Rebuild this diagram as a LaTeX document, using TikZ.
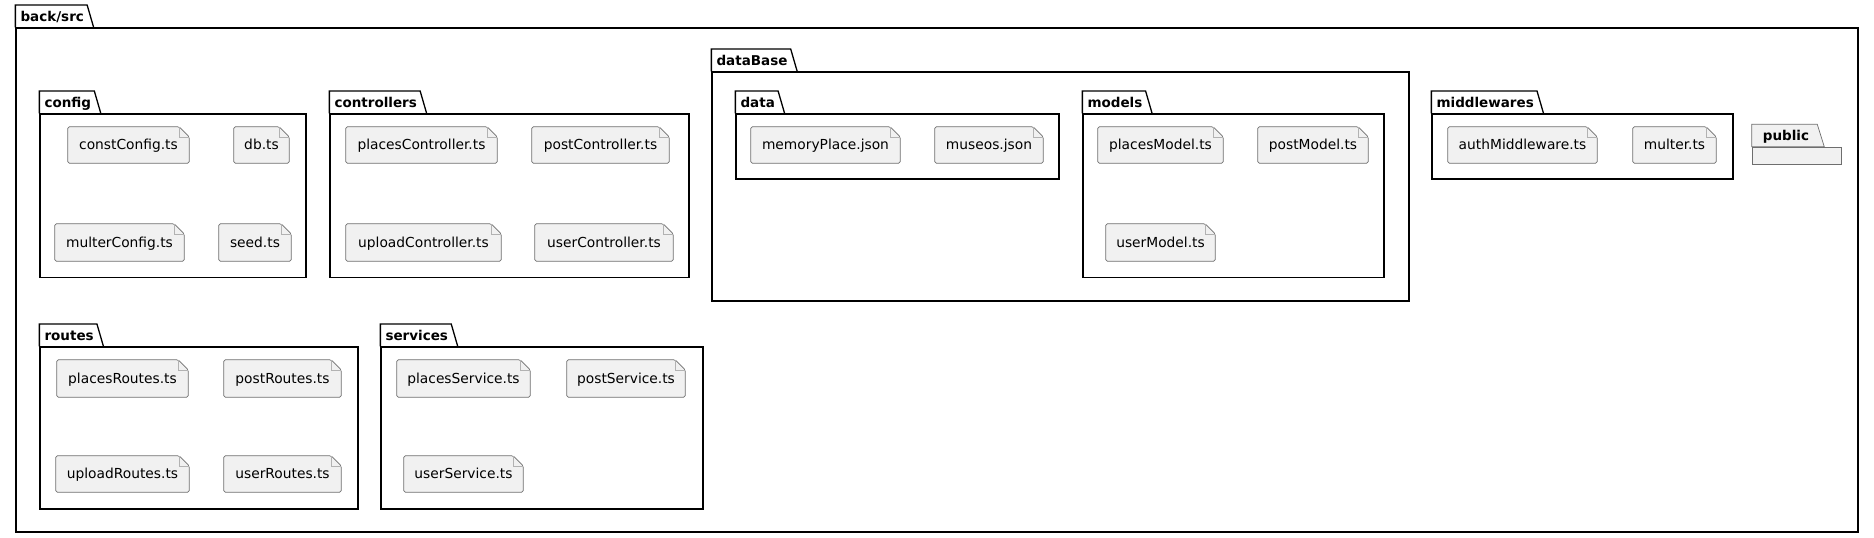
\documentclass[tikz,border=0pt]{standalone}
\usepackage{fontspec}
\setmainfont{DejaVu Sans}
\usetikzlibrary{backgrounds}
\definecolor{filefill}{HTML}{F1F1F1}
\definecolor{fileline}{HTML}{6E6E6E}
\tikzset{
  filebox/.style={inner sep=0pt, text height=11pt, text depth=2pt, font=\fontsize{13.8}{16}\selectfont},
  fileshape/.style={draw=fileline, line width=0.7pt, fill=filefill, rounded corners=1.5pt},
  foldline/.style={draw=black!30, line width=0.5pt},
  pkgbox/.style={draw=black, line width=1.3pt, inner sep=0pt},
  pkgline/.style={draw=black, line width=1.3pt, line join=miter},
  pkglabel/.style={inner xsep=0pt, inner ysep=2.7pt, text height=13.6pt, text depth=3pt, font=\fontsize{13.5}{16}\selectfont\bfseries},
  pubbox/.style={draw=fileline, line width=0.7pt, fill=filefill, inner sep=0pt}
}
\newcommand\filen[6]{%
  \node[filebox, minimum width={#4pt-#2pt}, minimum height={#5pt-#3pt}] (#1) at ({(#2+#4)/2},{(#3+#5)/2}) {#6};
  \begin{scope}[on background layer]
    \path[fileshape] (#1.north west) -- ([xshift=-10pt]#1.north east) -- ([yshift=-10pt]#1.north east) -- (#1.south east) -- (#1.south west) -- cycle;
    \draw[foldline] ([xshift=-10pt]#1.north east) -- ([xshift=-10pt,yshift=-10pt]#1.north east) -- ([yshift=-10pt]#1.north east);
  \end{scope}}
\newcommand\pkgn[6]{%
  \node[pkgbox, minimum width={#4pt-#2pt}, minimum height={#5pt-#3pt}] (#1) at ({(#2+#4)/2},{(#3+#5)/2}) {};
  \node[pkglabel, anchor=south west] (#1L) at ([xshift=5pt]#1.north west) {#6};
  \draw[pkgline] (#1.north west) |- ([xshift=3pt]#1L.north east) -- ([xshift=9.5pt]#1L.south east);}
\begin{document}
\begin{tikzpicture}[x=1pt,y=-1pt]
\useasboundingbox (0,0) rectangle (1874,538);
% outer package
\pkgn{backsrc}{16}{28}{1858}{532}{back/src}
% sub packages
\pkgn{config}{40}{114}{306}{277.5}{config}
\pkgn{controllers}{330}{114}{689}{277.5}{controllers}
\pkgn{dataBase}{712}{72}{1409}{301}{dataBase}
\pkgn{data}{736}{114}{1059}{179}{data}
\pkgn{models}{1083}{114}{1384}{277.5}{models}
\pkgn{middlewares}{1432}{114}{1733}{179}{middlewares}
\pkgn{routes}{40}{347}{358}{509}{routes}
\pkgn{services}{381}{347}{703}{509}{services}
% public (empty package)
\node[pubbox, minimum width=89pt, minimum height=17pt] (public) at (1796.5,155.5) {};
\node[pkglabel, anchor=south west] (publicL) at ([xshift=11pt]public.north west) {public};
\begin{scope}[on background layer]
  \path[pubbox] (public.north west) |- ([xshift=8pt]publicL.north east) -- ([xshift=15pt]publicL.south east) -- cycle;
\end{scope}
% files
\filen{constConfig}{68}{127}{189}{163}{constConfig.ts}
\filen{db}{234}{127}{289}{163}{db.ts}
\filen{multerConfig}{55}{224}{184}{261}{multerConfig.ts}
\filen{seed}{219}{224}{291}{261}{seed.ts}
\filen{placesController}{346}{127}{497}{163}{placesController.ts}
\filen{postController}{532}{127}{669}{163}{postController.ts}
\filen{uploadController}{346}{224}{501}{261}{uploadController.ts}
\filen{userController}{535}{224}{673}{261}{userController.ts}
\filen{memoryPlace}{751}{127}{900}{163}{memoryPlace.json}
\filen{museos}{935}{127}{1043}{163}{museos.json}
\filen{placesModel}{1098}{127}{1223}{163}{placesModel.ts}
\filen{postModel}{1258}{127}{1368}{163}{postModel.ts}
\filen{userModel}{1106}{224}{1215}{261}{userModel.ts}
\filen{authMiddleware}{1448}{127}{1597}{163}{authMiddleware.ts}
\filen{multer}{1633}{127}{1716}{163}{multer.ts}
\filen{placesRoutes}{57}{360}{188}{397}{placesRoutes.ts}
\filen{postRoutes}{224}{360}{341}{397}{postRoutes.ts}
\filen{uploadRoutes}{56}{456}{189}{492}{uploadRoutes.ts}
\filen{userRoutes}{224}{456}{341}{492}{userRoutes.ts}
\filen{placesService}{397}{360}{530}{397}{placesService.ts}
\filen{postService}{567}{360}{685}{397}{postService.ts}
\filen{userService}{404}{456}{523}{492}{userService.ts}
\end{tikzpicture}
\end{document}
